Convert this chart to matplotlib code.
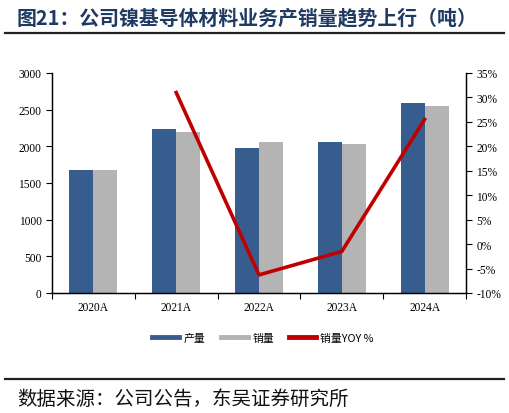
import numpy as np
import matplotlib.pyplot as plt
from matplotlib.lines import Line2D
from matplotlib.ticker import FuncFormatter

years = ['2020A', '2021A', '2022A', '2023A', '2024A']
output_t = [1680, 2230, 1980, 2062, 2584]
sales_t = [1680, 2200, 2062, 2030, 2547]
sales_yoy = [None, 31.0, -6.3, -1.5, 25.5]

blue = '#375D8E'
grey = '#B4B4B4'
red = '#C00000'
navy = '#1F3B63'
cn = ['Noto Sans CJK SC', 'DejaVu Sans']
num = ['Liberation Serif', 'Noto Sans CJK SC']

fig = plt.figure(figsize=(5.09, 4.14), dpi=100)
ax = fig.add_axes([0.1022, 0.2899, 0.8133, 0.5314])
ax2 = ax.twinx()

x = np.arange(len(years))
w = 0.29
ax.bar(x - w / 2, output_t, w, color=blue, zorder=2)
ax.bar(x + w / 2, sales_t, w, color=grey, zorder=2)

xs = [i for i, v in enumerate(sales_yoy) if v is not None]
ys = [v for v in sales_yoy if v is not None]
ax2.plot(xs, ys, color=red, lw=2.6, zorder=3)

ax.set_xlim(-0.5, len(years) - 0.5)
ax.set_ylim(0, 3000)
ax.set_yticks(np.arange(0, 3001, 500))
ax2.set_ylim(-10, 35)
ax2.set_yticks(np.arange(-10, 36, 5))
ax2.yaxis.set_major_formatter(FuncFormatter(lambda v, p: f'{v:.0f}%'))

ax.set_xticks(x)
ax.set_xticklabels(years)
ax.set_xticks(np.arange(-0.5, len(years)), minor=True)
ax.tick_params(axis='x', which='major', length=0, pad=6)
ax.tick_params(axis='x', which='minor', length=4, direction='out', width=0.8)
ax.tick_params(axis='y', length=4, width=0.8, direction='out')
ax2.tick_params(axis='y', length=4, width=0.8, direction='out')

for a in (ax, ax2):
    a.spines['top'].set_visible(False)
    for s in ('left', 'right', 'bottom'):
        a.spines[s].set_linewidth(0.9)
    for lab in a.get_xticklabels() + a.get_yticklabels():
        lab.set_family(num)
        lab.set_fontsize(8.3)

handles = [Line2D([], [], color=blue, lw=3.5),
           Line2D([], [], color=grey, lw=3.5),
           Line2D([], [], color=red, lw=3.5)]
fig.legend(handles, ['产量', '销量', '销量YOY %'], loc='center', ncol=3,
           bbox_to_anchor=(0.517, 0.181), frameon=False, handlelength=2.5,
           columnspacing=1.4, handletextpad=0.4, prop={'family': cn, 'size': 7.8})

fig.text(0.033, 0.957, '图21：公司镍基导体材料业务产销量趋势上行（吨）',
         family=cn, fontsize=14.3, fontweight='bold', color=navy, va='center')
fig.add_artist(Line2D([0.01, 0.99], [0.918, 0.918], color='#222222', lw=1.6))
fig.add_artist(Line2D([0.01, 0.99], [0.082, 0.082], color='#222222', lw=1.6))
fig.text(0.033, 0.036, '数据来源：公司公告，东吴证券研究所',
         family=cn, fontsize=14, color='#111111', va='center')

fig.savefig('out.png', dpi=100)
